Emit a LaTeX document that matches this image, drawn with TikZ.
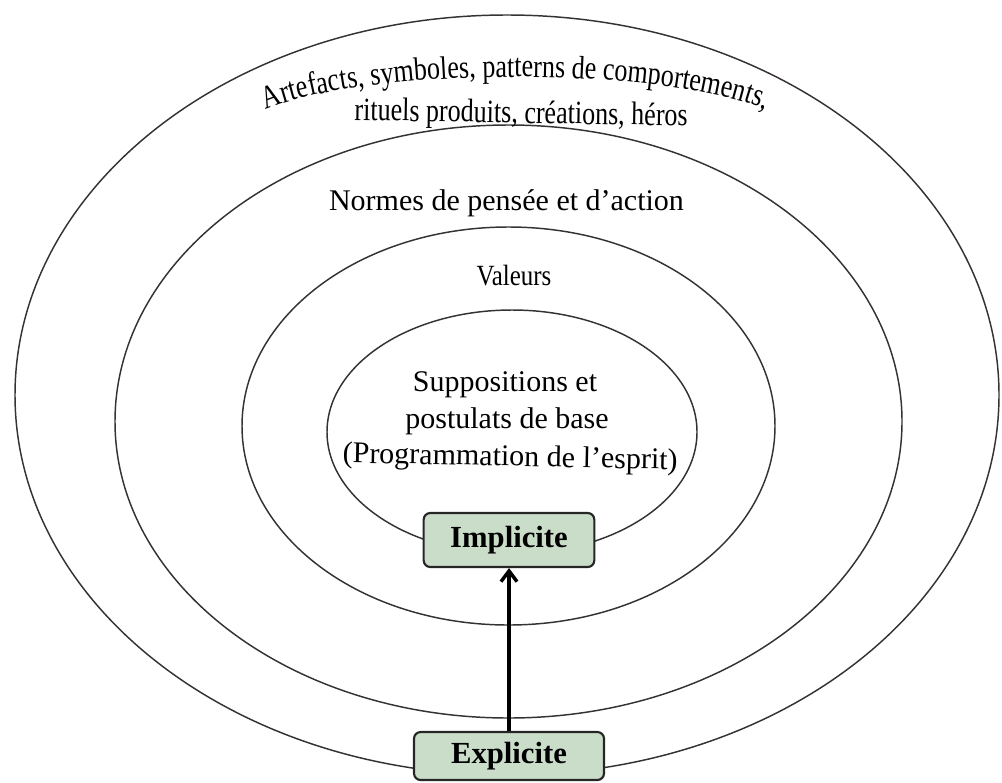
\documentclass[tikz,border=0pt]{standalone}
\usepackage{fontspec}
\setmainfont{Liberation Serif}
\newfontfamily\condfont[FakeStretch=0.8]{Liberation Serif}
\newfontfamily\semicond[FakeStretch=0.85]{Liberation Serif}
\usetikzlibrary{arrows.meta,decorations.text}
\definecolor{boxfill}{RGB}{201,221,201}
\definecolor{ringcol}{RGB}{55,50,50}
\begin{document}
\begin{tikzpicture}[x=0.75pt,y=-0.75pt,
  ring/.style={draw=ringcol, line width=1.1pt},
  levelbox/.style={draw=black!85, line width=1.6pt, fill=boxfill, rounded corners=5pt,
    inner sep=0pt, font=\fontsize{23}{26}\selectfont\bfseries},
  lbl/.style={font=\fontsize{22.5}{26}\selectfont, inner sep=0pt, anchor=base},
  flow/.style={line width=2.6pt, -{Straight Barb[length=8pt,width=12pt]}}]
\useasboundingbox (0,0) rectangle (1002,782);
% concentric layers
\draw[ring] (507,395) ellipse [x radius=492, y radius=380];
\draw[ring] (508.5,421.5) ellipse [x radius=393.5, y radius=296.5];
\draw[ring] (508.5,426) ellipse [x radius=266.5, y radius=199];
\draw[ring] (512,432) ellipse [x radius=185, y radius=122];
% curved first line
\path[decorate, decoration={text along path, text align=center,
  text={|\condfont\fontsize{24.4}{26}\selectfont|Artefacts, symboles, patterns de comportements,}}]
  (516,135) ++(195:278 and 58) arc [start angle=195, end angle=345, x radius=278, y radius=58];
\node[lbl, font=\condfont\fontsize{24.4}{26}\selectfont, rotate=-1] (rit) at (521,123) {rituels produits, créations, héros};
\node[lbl] (norm) at (506.5,210) {Normes de pensée et d’action};
\node[lbl, font=\semicond\fontsize{22}{24}\selectfont] (val) at (514,285) {Valeurs};
\node[lbl] (sup) at (505,391) {Suppositions et};
\node[lbl] (post) at (507,428) {postulats de base};
\node[lbl, rotate=-1.2] (prog) at (510,466) {(Programmation de l’esprit)};
% boxes
\node[levelbox, minimum width=128pt, minimum height=40.5pt] (impl) at (509,540) {Implicite};
\node[levelbox, minimum width=142.5pt, minimum height=36pt] (expl) at (509,756) {Explicite};
\draw[flow] (expl.north) -- (impl.south);
\end{tikzpicture}
\end{document}
